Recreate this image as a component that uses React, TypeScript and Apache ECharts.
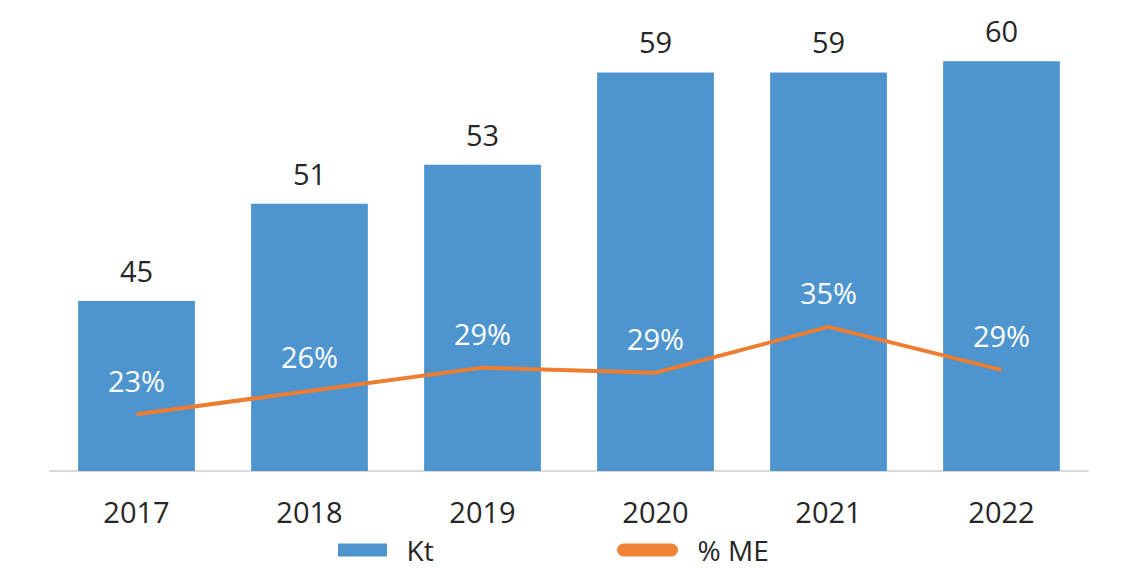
import React, { useEffect, useRef } from "react";
import * as echarts from "echarts";

const years = ["2017", "2018", "2019", "2020", "2021", "2022"];
const ktValues = [45, 51, 53.4, 59.1, 59.1, 59.8];
const meShare = [23, 26.2, 29.4, 28.7, 35, 29.1];

const FONT = "'Open Sans', sans-serif";
const TEXT = "#262626";
const BLUE = "#4E95D0";
const ORANGE = "#ED7D31";

export default function App() {
  const ref = useRef<HTMLDivElement>(null);
  useEffect(() => {
    if (!ref.current) return;
    const chart = echarts.init(ref.current, undefined, { renderer: "svg" });
    chart.setOption({
      animation: false,
      backgroundColor: "#ffffff",
      textStyle: { fontFamily: FONT },
      grid: { left: 50, right: 34, top: 25.5, bottom: 97, containLabel: false },
      legend: [
        {
          data: [{ name: "Kt", icon: "rect", itemStyle: { color: BLUE, opacity: 1 } }],
          left: 333,
          top: 531,
          itemWidth: 49,
          itemHeight: 13,
          formatter: (n: string) => "  " + n,
          textStyle: { fontFamily: FONT, fontSize: 28, color: TEXT },
        },
        {
          data: [
            {
              name: "% ME",
              icon: "path://M6.5,0 H54.5 A6.5,6.5 0 0 1 54.5,13 H6.5 A6.5,6.5 0 0 1 6.5,0 Z",
              itemStyle: { color: "#F08336", opacity: 1 },
            },
          ],
          left: 612,
          top: 531,
          itemWidth: 61,
          itemHeight: 13,
          formatter: (n: string) => "  " + n,
          textStyle: { fontFamily: FONT, fontSize: 28, color: TEXT },
        },
      ],
      xAxis: {
        type: "category",
        data: years,
        axisLine: { lineStyle: { color: "#d9d9d9", width: 2 } },
        axisTick: { show: false },
        axisLabel: { fontFamily: FONT, fontSize: 29, color: TEXT, margin: 26 },
      },
      yAxis: [
        { type: "value", min: 34.5, max: 62, show: false, splitLine: { show: false } },
        { type: "value", min: 15.2, max: 76.4, show: false, splitLine: { show: false } },
      ],
      series: [
        {
          name: "Kt",
          type: "bar",
          data: ktValues,
          barCategoryGap: "32.5%",
          itemStyle: { color: BLUE },
          label: {
            show: true,
            position: "top",
            distance: 16,
            fontFamily: FONT,
            fontSize: 29,
            color: TEXT,
            formatter: (p: any) => String(Math.round(p.value)),
          },
        },
        {
          name: "% ME",
          type: "line",
          yAxisIndex: 1,
          data: meShare,
          showSymbol: true,
          symbol: "circle",
          symbolSize: 1,
          lineStyle: { color: ORANGE, width: 4 },
          itemStyle: { color: ORANGE, opacity: 0 },
          label: {
            show: true,
            position: "top",
            distance: 19,
            fontFamily: FONT,
            fontSize: 29,
            color: "#ffffff",
            opacity: 1,
            formatter: (p: any) => Math.round(p.value) + "%",
          },
        },
      ],
    });
    return () => chart.dispose();
  }, []);
  return (
    <div
      ref={ref}
      style={{ position: "fixed", left: 0, top: 0, width: 1122, height: 568 }}
    />
  );
}
